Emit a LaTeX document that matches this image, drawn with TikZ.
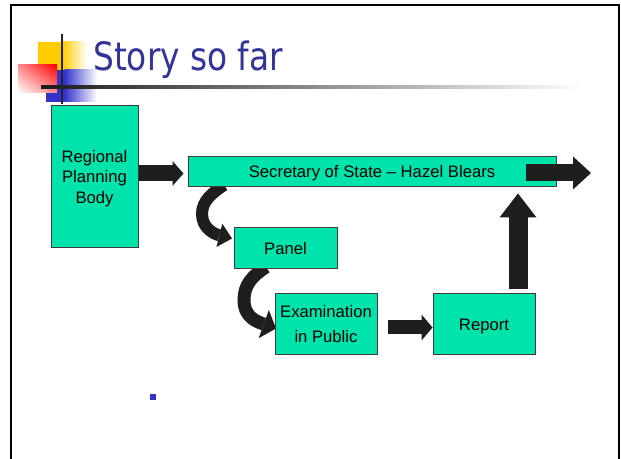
\documentclass[tikz,border=0pt]{standalone}
\usepackage{fontspec}
\usepackage{graphicx}
\setmainfont{Liberation Sans}
\newfontfamily\titlefont{DejaVu Sans}
\usetikzlibrary{arrows.meta,calc,shadings}
\definecolor{boxgreen}{RGB}{0,227,170}
\definecolor{boxedge}{RGB}{60,60,60}
\definecolor{arrowblack}{RGB}{30,30,30}
\definecolor{titleblue}{RGB}{51,51,153}
\definecolor{bulletblue}{RGB}{51,51,204}
\definecolor{logoyellow}{RGB}{255,204,0}
\definecolor{logoblue}{RGB}{51,51,204}
\definecolor{logored}{RGB}{255,0,0}
\newcommand\bstrut{\rule[-2.65pt]{0pt}{13.95pt}}
\tikzset{
  box/.style={draw=boxedge, fill=boxgreen, line width=0.75pt, inner sep=0pt,
    align=center, font=\fontsize{12.5}{15.2}\selectfont},
  blk/.style={draw=arrowblack, line cap=butt},
}
\begin{document}
\begin{tikzpicture}[x=0.75pt,y=-0.75pt]
\useasboundingbox (0,0) rectangle (621,459);
\fill[white] (0,0) rectangle (621,459);
\begin{scope}
  \clip (0,0) rectangle (621,459);
  \draw[line width=1.6pt] (11,5) rectangle (619,475);
\end{scope}

% logo
\fill[logoyellow] (38,42) rectangle (63,70);
\shade[left color=logoyellow, right color=white] (62.5,42) rectangle (87,70);
\fill[logoblue] (46,70) rectangle (65,102);
\shade[left color=logoblue, right color=white] (64.5,70) rectangle (97,102);
\shade[upper right=logored, upper left=logored!45!white, lower right=logored!45!white, lower left=white] (18,65) rectangle (57,93);
\shade[left color=black!90, right color=white] (41,85.7) rectangle (584,88.3);
\draw[line width=1.9pt, black!85] (62,34) -- (62,104);

% title
\node[anchor=base west, text=titleblue, inner sep=0pt] (title) at (93,70.7)
  {\scalebox{0.84}[1]{\titlefont\fontsize{29.3}{34}\selectfont Story so far}};

% bullet
\fill[bulletblue] (150,394) rectangle (156,400);

% curved block arrows (under the boxes)
\coordinate (c1s) at (224,185);
\coordinate (c2s) at (266,267);
\draw[blk, line width=9pt, -{Triangle[length=9.75pt,width=18pt,line width=0pt]}, arrowblack]
  (c1s) .. controls (212,193) and (202,201) .. (202,214)
  .. controls (202,228) and (214,234) .. (232,238.5);
\draw[blk, line width=9.75pt, -{Triangle[length=9.75pt,width=22.5pt,line width=0pt]}, arrowblack]
  (c2s) .. controls (252,276) and (244,285) .. (244,300)
  .. controls (244,318) and (258,322) .. (276,328.5);

% boxes
\node[box, minimum width=65.25pt, minimum height=106.5pt] (rpb) at (94.5,177)
  {\bstrut Regional\\\bstrut Planning\\\bstrut Body};
\node[box, minimum width=276pt, minimum height=22.5pt] (sec) at (372,172)
  {\bstrut Secretary of State -- Hazel Blears};
\node[box, minimum width=77.25pt, minimum height=30.75pt] (panel) at (285.5,248.5)
  {\bstrut Panel};
\node[box, minimum width=76.5pt, minimum height=45.75pt,
  font=\fontsize{12.5}{18.75}\selectfont] (exam) at (326,324.5)
  {\bstrut Examination\\\bstrut in Public};
\node[box, minimum width=76.5pt, minimum height=45.75pt] (rep) at (484,324.5)
  {\bstrut Report};
\coordinate (outtip) at (591,173);

% straight block arrows
\draw[blk, line width=12pt, -{Triangle[length=8.25pt,width=18.75pt,line width=0pt]}, arrowblack]
  ($(rpb.east |- sec.west)+(0,1.5)$) -- ($(sec.west)+(-4,1.5)$);
\draw[blk, line width=12.75pt, -{Triangle[length=13.5pt,width=24.75pt,line width=0pt]}, arrowblack]
  ($(sec.east)+(-31,1)$) -- (outtip);
\draw[blk, line width=14.25pt, -{Triangle[length=18pt,width=27.75pt,line width=0pt]}, arrowblack]
  ($(rep.north east)+(-17.5,-4)$) -- ($(sec.south -| rep.north east)+(-17.5,6)$);
\draw[blk, line width=10.5pt, -{Triangle[length=8.25pt,width=19.5pt,line width=0pt]}, arrowblack]
  ($(exam.east)+(10,3)$) -- ($(rep.west)+(0,3)$);
\end{tikzpicture}
\end{document}
